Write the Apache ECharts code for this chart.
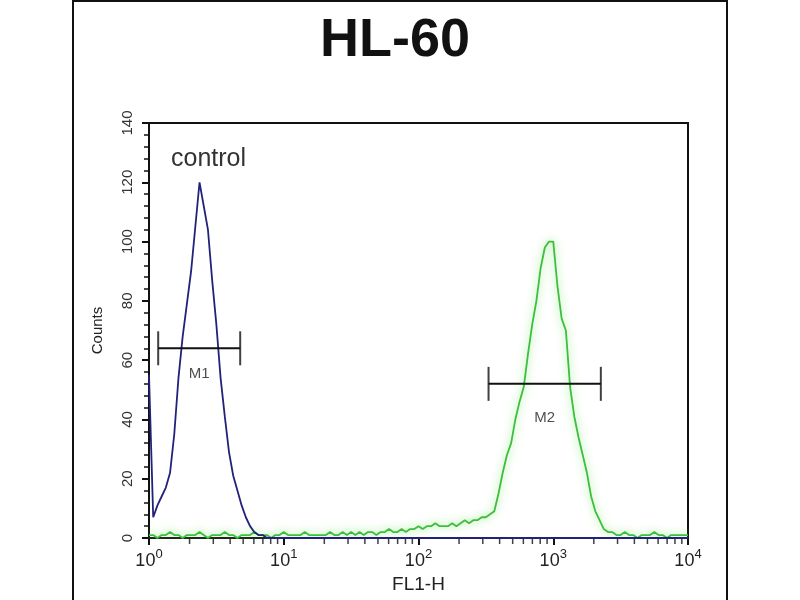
<!DOCTYPE html>
<html>
<head>
<meta charset="utf-8">
<title>HL-60</title>
<script src="https://cdn.jsdelivr.net/npm/echarts@6.0.0/dist/echarts.min.js"></script>
<style>
html, body { margin: 0; padding: 0; background: #fff; }
#chart { width: 800px; height: 600px; }
</style>
</head>
<body>
<div id="chart"></div>
<script>
// histogram channels, 32 per decade from 10^0 to 10^4
var binsPerDecade = 32;

var controlCounts = [
	55, 7, 11, 14, 17, 22, 35, 54, 68, 79,
	90, 105, 120, 112, 104, 87, 72, 54, 41, 29,
	21, 16, 11, 7, 4, 2, 1, 1, 0, 0,
	0, 0, 0, 0, 0, 0, 0, 0, 0, 0,
	0, 0, 0, 0, 0, 0, 0, 0, 0, 0,
	0, 0, 0, 0, 0, 0, 0, 0, 0, 0,
	0, 0, 0, 0, 0, 0, 0, 0, 0, 0,
	0, 0, 0, 0, 0, 0, 0, 0, 0, 0,
	0, 0, 0, 0, 0, 0, 0, 0, 0, 0,
	0, 0, 0, 0, 0, 0, 0, 0, 0, 0,
	0, 0, 0, 0, 0, 0, 0, 0, 0, 0,
	0, 0, 0, 0, 0, 0, 0, 0, 0, 0,
	0, 0, 0, 0, 0, 0, 0, 0, 0
];

var hl60Counts = [
	1, 1, 0, 1, 1, 2, 1, 1, 0, 1,
	1, 1, 2, 1, 0, 1, 1, 1, 2, 1,
	1, 0, 1, 1, 1, 2, 1, 1, 1, 0,
	1, 1, 2, 1, 1, 1, 1, 2, 1, 1,
	1, 1, 1, 2, 1, 1, 2, 1, 2, 1,
	2, 1, 2, 2, 1, 2, 2, 3, 2, 2,
	3, 2, 3, 3, 4, 3, 4, 4, 5, 4,
	4, 4, 5, 4, 5, 6, 5, 6, 6, 7,
	7, 8, 9, 15, 22, 28, 32, 40, 46, 51,
	62, 72, 80, 91, 98, 100, 100, 85, 74, 70,
	51, 41, 34, 28, 22, 14, 9, 6, 3, 2,
	2, 1, 1, 2, 1, 1, 0, 1, 1, 1,
	2, 1, 1, 0, 1, 1, 1, 1, 1
];

var gateNames = ['M1', 'M2'];
var gateFrom = [1.17, 331];
var gateTo = [4.75, 2255];
var gateLevel = [64, 52];

var decades = [1, 10, 100, 1000];
var minorSteps = [2, 3, 4, 5, 6, 7, 8, 9];

var fontName = '"Liberation Sans", Arial, sans-serif';

function toPairs(counts) {
	var out = [];
	for(var i = 0; i < counts.length; i++) {
		out.push([Math.pow(10, i / binsPerDecade), counts[i]]);
	}
	return out;
}

function minorTickData() {
	var out = [];
	decades.forEach(function(d) {
		minorSteps.forEach(function(s) {
			out.push([d * s, 0]);
		});
	});
	return out;
}

function gateSeries() {
	var list = [];
	gateNames.forEach(function(name, i) {
		var lo = [gateFrom[i], gateLevel[i]];
		var hi = [gateTo[i], gateLevel[i]];
		list.push({
			type: 'line',
			data: [lo, hi],
			showSymbol: false,
			silent: true,
			z: 5,
			lineStyle: { color: '#111', width: 2 }
		});
		list.push({
			type: 'scatter',
			data: [lo, hi],
			symbol: 'rect',
			symbolSize: [2, 34],
			silent: true,
			z: 5,
			itemStyle: { color: '#111' }
		});
		// label sits under the middle of the bar
		list.push({
			type: 'scatter',
			data: [[Math.sqrt(gateFrom[i] * gateTo[i]), gateLevel[i]]],
			symbolSize: 0,
			silent: true,
			z: 5,
			label: {
				show: true,
				position: 'bottom',
				distance: i == 0 ? 18 : 27,
				formatter: name,
				fontFamily: fontName,
				fontSize: 15,
				color: '#222'
			}
		});
	});
	return list;
}

var chart = echarts.init(document.getElementById('chart'));

var option = {
	animation: false,
	backgroundColor: '#fff',
	title: {
		text: 'HL-60',
		left: 390,
		top: 9,
		textAlign: 'center',
		textStyle: {
			fontFamily: fontName,
			fontWeight: 'bold',
			fontSize: 54,
			color: '#111'
		}
	},
	graphic: [{
		type: 'rect',
		silent: true,
		shape: { x: 73, y: 1, width: 654, height: 640 },
		style: { fill: 'none', stroke: '#111', lineWidth: 2 }
	}, {
		type: 'text',
		silent: true,
		left: 171,
		top: 147,
		style: {
			text: 'control',
			font: '25px ' + fontName,
			fill: '#333'
		}
	}],
	grid: {
		left: 149,
		right: 112,
		top: 123,
		bottom: 62,
		show: true,
		borderColor: '#111',
		borderWidth: 2
	},
	xAxis: {
		type: 'log',
		logBase: 10,
		min: 1,
		max: 10000,
		name: 'FL1-H',
		nameLocation: 'middle',
		nameGap: 37,
		nameTextStyle: {
			fontFamily: fontName,
			fontSize: 19,
			color: '#222'
		},
		splitLine: { show: false },
		axisLine: { lineStyle: { color: '#111', width: 2 } },
		axisTick: { length: 7, lineStyle: { color: '#111', width: 2 } },
		axisLabel: {
			margin: 10,
			formatter: function(v) {
				var e = Math.round(Math.log(v) / Math.LN10);
				return '{b|10}{s|' + e + '}';
			},
			rich: {
				b: { fontFamily: fontName, fontSize: 18, color: '#222' },
				s: { fontFamily: fontName, fontSize: 13, color: '#222', padding: [0, 0, 13, 0] }
			}
		}
	},
	yAxis: {
		type: 'value',
		min: 0,
		max: 140,
		interval: 20,
		name: 'Counts',
		nameLocation: 'middle',
		nameGap: 44,
		nameTextStyle: {
			fontFamily: fontName,
			fontSize: 15,
			color: '#222'
		},
		splitLine: { show: false },
		axisLine: { show: true, lineStyle: { color: '#111', width: 2 } },
		axisTick: { length: 7, lineStyle: { color: '#111', width: 2 } },
		minorTick: { show: true, splitNumber: 5, length: 5, lineStyle: { color: '#111', width: 1.5 } },
		axisLabel: {
			rotate: 90,
			margin: 14,
			fontFamily: fontName,
			fontSize: 15,
			color: '#333'
		}
	},
	series: [{
		name: 'HL-60',
		type: 'line',
		data: toPairs(hl60Counts),
		showSymbol: false,
		silent: true,
		z: 3,
		lineStyle: {
			color: '#3cbf3c',
			width: 1.8,
			shadowBlur: 8,
			shadowColor: 'rgba(110, 230, 90, 0.9)'
		}
	}, {
		name: 'control',
		type: 'line',
		data: toPairs(controlCounts),
		showSymbol: false,
		silent: true,
		z: 4,
		lineStyle: { color: '#22227a', width: 1.8 }
	}, {
		// log spaced minor ticks under the x axis
		type: 'scatter',
		data: minorTickData(),
		symbol: 'rect',
		symbolSize: [1.5, 5],
		symbolOffset: [0, 3.5],
		clip: false,
		silent: true,
		z: 6,
		itemStyle: { color: '#111' }
	}].concat(gateSeries())
};

chart.setOption(option);
</script>
</body>
</html>
